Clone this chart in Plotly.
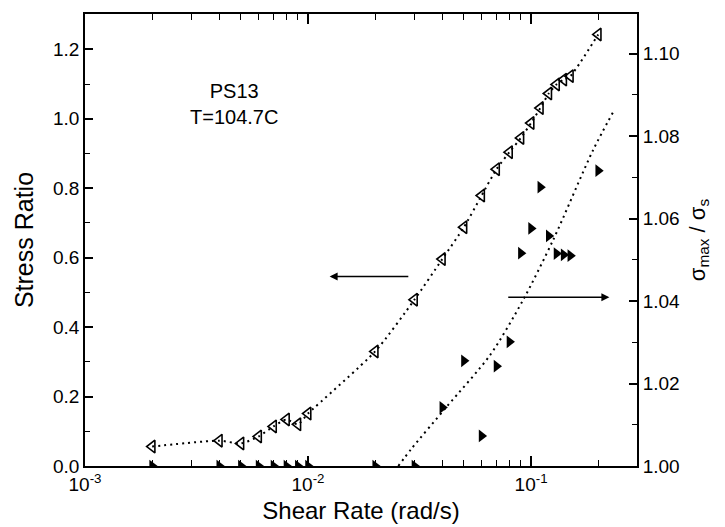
import math
import plotly.graph_objects as go

# ---- data ----
shear_open = [0.002, 0.004, 0.005, 0.006, 0.007, 0.008, 0.009, 0.01, 0.02, 0.03,
              0.04, 0.05, 0.06, 0.07, 0.08, 0.09, 0.10, 0.11, 0.12, 0.13, 0.14, 0.15, 0.2]
stress_ratio = [0.056, 0.073, 0.065, 0.085, 0.114, 0.134, 0.120, 0.151, 0.330, 0.479,
                0.596, 0.688, 0.779, 0.855, 0.904, 0.945, 0.988, 1.031, 1.073, 1.099,
                1.113, 1.123, 1.243]

shear_filled = [0.002, 0.004, 0.005, 0.006, 0.007, 0.008, 0.009, 0.01, 0.02, 0.03,
                0.04, 0.05, 0.06, 0.07, 0.08, 0.09, 0.10, 0.11, 0.12, 0.13, 0.14, 0.15, 0.2]
sigma_ratio = [1.000, 1.000, 1.000, 1.000, 1.000, 1.000, 1.000, 1.000, 1.000, 1.000,
               1.0142, 1.0255, 1.0073, 1.0242, 1.0301, 1.0516, 1.0576, 1.0676, 1.0558,
               1.0515, 1.0512, 1.0510, 1.0716]

# dotted guide line for the filled symbols
fit2_x = [0.0254, 0.0292, 0.0419, 0.0655, 0.0920, 0.1256, 0.1897, 0.2333]
fit2_y = [1.000, 1.0043, 1.0144, 1.0269, 1.0402, 1.0548, 1.0766, 1.0858]

x_ticks = [0.001, 0.01, 0.1]
x_ticktext = ["10<sup>-3</sup>", "10<sup>-2</sup>", "10<sup>-1</sup>"]
x_minor = [0.002, 0.003, 0.004, 0.005, 0.006, 0.007, 0.008, 0.009,
           0.02, 0.03, 0.04, 0.05, 0.06, 0.07, 0.08, 0.09, 0.2, 0.3]
y1_ticks = [0.0, 0.2, 0.4, 0.6, 0.8, 1.0, 1.2]
y1_minor = [0.1, 0.3, 0.5, 0.7, 0.9, 1.1]
y2_ticks = [1.00, 1.02, 1.04, 1.06, 1.08, 1.10]
y2_minor = [1.01, 1.03, 1.05, 1.07, 1.09]

FONT = "Liberation Sans, Arial, sans-serif"
DOT = "2px,4px"

fig = go.Figure()

fig.add_trace(go.Scatter(
    x=shear_open, y=stress_ratio, mode="lines",
    line=dict(color="black", width=2, dash=DOT, shape="spline", smoothing=0.6),
    yaxis="y", hoverinfo="skip"))
fig.add_trace(go.Scatter(
    x=shear_open, y=stress_ratio, mode="markers",
    marker=dict(symbol="triangle-left-open", size=11, color="black",
                line=dict(width=1.6, color="black")),
    yaxis="y"))

fig.add_trace(go.Scatter(
    x=fit2_x, y=fit2_y, mode="lines",
    line=dict(color="black", width=2, dash=DOT, shape="spline", smoothing=0.8),
    yaxis="y2", hoverinfo="skip"))
fig.add_trace(go.Scatter(
    x=shear_filled, y=sigma_ratio, mode="markers",
    marker=dict(symbol="triangle-right", size=11, color="black"),
    yaxis="y2", cliponaxis=True))

axis_common = dict(showline=True, linecolor="black", linewidth=1.8,
                   ticks="inside", tickcolor="black", tickwidth=1.5,
                   showgrid=False, zeroline=False, automargin=False,
                   tickfont=dict(family=FONT, size=19, color="black"))

fig.update_layout(
    width=725, height=527,
    margin=dict(l=85, r=88, t=14, b=61, autoexpand=False),
    paper_bgcolor="white", plot_bgcolor="white",
    showlegend=False,
    font=dict(family=FONT, color="black"),
    xaxis=dict(type="log", range=[-3, -0.525], mirror="ticks",
               tickmode="array", tickvals=x_ticks, ticktext=x_ticktext, ticklen=10,
               minor=dict(tickmode="array", tickvals=x_minor, ticks="inside",
                          ticklen=6, tickcolor="black", tickwidth=1.2),
               title=dict(text="Shear Rate (rad/s)", standoff=8,
                          font=dict(family=FONT, size=24, color="black")),
               **axis_common),
    yaxis=dict(range=[0, 1.302], tickmode="array", tickvals=y1_ticks,
               tickformat=".1f", ticklen=8,
               minor=dict(tickmode="array", tickvals=y1_minor, ticks="inside",
                          ticklen=5, tickcolor="black", tickwidth=1.2),
               title=dict(text="Stress Ratio", standoff=12,
                          font=dict(family=FONT, size=25, color="black")),
               **axis_common),
    yaxis2=dict(range=[1.0, 1.1096], overlaying="y", side="right",
                tickmode="array", tickvals=y2_ticks, tickformat=".2f", ticklen=8,
                minor=dict(tickmode="array", tickvals=y2_minor, ticks="inside",
                           ticklen=5, tickcolor="black", tickwidth=1.2),
                title=dict(text="σ<sub>max</sub> / σ<sub>s</sub>", standoff=10,
                           font=dict(family=FONT, size=22, color="black")),
                **axis_common),
)

fig.add_annotation(text="PS13<br>T=104.7C", x=math.log10(0.00466), y=1.044,
                   xref="x", yref="y", showarrow=False, align="center",
                   font=dict(family=FONT, size=20, color="black"))

# arrows pointing to the axes
fig.add_annotation(x=math.log10(0.0125), y=0.546, ax=math.log10(0.0286), ay=0.546,
                   xref="x", yref="y", axref="x", ayref="y", text="",
                   showarrow=True, arrowhead=2, arrowsize=1, arrowwidth=1.6,
                   arrowcolor="black")
fig.add_annotation(x=math.log10(0.2245), y=1.0409, ax=math.log10(0.0778), ay=1.0409,
                   xref="x", yref="y2", axref="x", ayref="y2", text="",
                   showarrow=True, arrowhead=2, arrowsize=1, arrowwidth=1.6,
                   arrowcolor="black")

fig.write_html("out.html")
